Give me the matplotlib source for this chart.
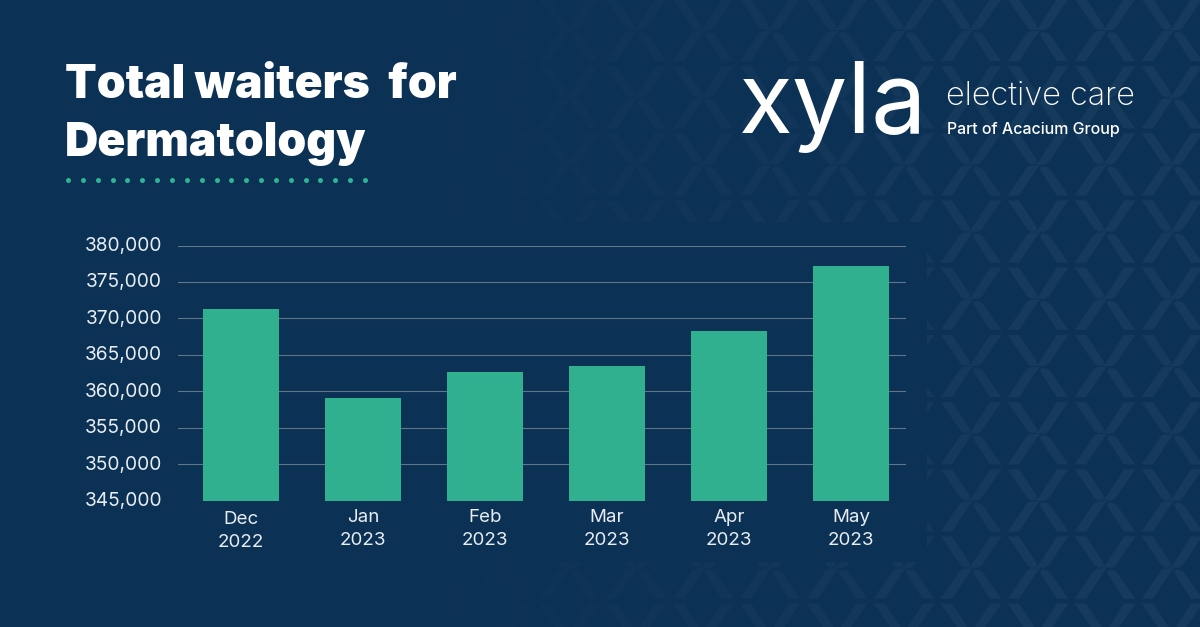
import matplotlib
matplotlib.use('Agg')
import matplotlib.pyplot as plt
import numpy as np
from matplotlib.patches import Polygon, Rectangle
from matplotlib.transforms import ScaledTranslation

# data
months = ['Dec\n2022', 'Jan\n2023', 'Feb\n2023', 'Mar\n2023', 'Apr\n2023', 'May\n2023']
waiters = [371280, 359070, 362640, 363460, 368330, 377250]
y_ticks = [345000, 350000, 355000, 360000, 365000, 370000, 375000, 380000]

BG = '#0b3155'
TILE = '#163a5c'
GREEN = '#30b08f'
GRID = '#607789'
LABEL = '#e8edf1'

plt.rcParams['font.family'] = ['Inter', 'DejaVu Sans']

fig = plt.figure(figsize=(12, 6.27), dpi=100, facecolor=BG)

# full page axes in pixel coords, for the background and the header
page = fig.add_axes([0, 0, 1, 1], zorder=0)
page.set_xlim(0, 1200)
page.set_ylim(627, 0)
page.axis('off')

# the four strokes of one X, relative to its crossing
strokes = [
    [(-29, -31), (-18, -31), (0, -4), (-1, -1), (-5, 0), (-9, -2)],
    [(20, -31), (31, -31), (12, -3), (8, 0), (-2, 0), (2, -3)],
    [(-29, 31), (-18, 31), (0, 4), (3, 1), (-6, 1), (-10, 3)],
    [(20, 31), (31, 31), (13, 5), (10, 3), (5, 2), (3, 5)],
]
for cx in np.arange(970 - 67 * 14, 1240, 67):
    for cy in np.arange(30, 640, 67.2):
        for s in strokes:
            page.add_patch(Polygon(np.array(s) + [cx, cy], closed=True, fc=TILE, ec=TILE,
                                   lw=0.3, joinstyle='round', zorder=1))

# pattern fades out to the left
fade = np.zeros((2, 1200, 4))
fade[..., :3] = matplotlib.colors.to_rgb(BG)
fade[..., 3] = np.clip((1000 - np.arange(1200)) / 600, 0, 1)
page.imshow(fade, extent=(0, 1200, 627, 0), aspect='auto', zorder=2)
page.set_xlim(0, 1200)
page.set_ylim(627, 0)

# plain panel behind the chart
page.add_patch(Rectangle((0, 222), 927, 340, fc=BG, ec='none', zorder=3))

# title
page.text(65, 86, 'Total waiters  for', color='white', fontsize=33.3, fontweight='black',
          va='center', ha='left', zorder=5)
page.text(65, 144, 'Dermatology', color='white', fontsize=33.3, fontweight='black',
          va='center', ha='left', zorder=5)
page.scatter(np.linspace(68, 365, 21), [180] * 21, s=13, color='#2fb596', linewidths=0, zorder=5)

# logo text
page.text(739, 133, 'xyla', color='white', fontsize=71, va='baseline', ha='left', zorder=5)
page.text(946, 105, 'elective care', color='white', fontsize=23.4, fontweight='light',
          va='baseline', ha='left', zorder=5)
page.text(947, 134, 'Part of Acacium Group', color='white', fontsize=11.5, fontweight='medium',
          va='baseline', ha='left', zorder=5)

# chart
ax = fig.add_axes([178 / 1200, 1 - 500.5 / 627, 728 / 1200, 255 / 627], zorder=1)
ax.patch.set_alpha(0)
x = np.arange(len(months))
ax.bar(x, waiters, width=0.623, color=GREEN, zorder=3)
ax.set_xlim(-0.516, 5.451)
ax.set_ylim(345000, 380000)
ax.set_yticks(y_ticks)
ax.set_yticklabels([f'{v:,}' for v in y_ticks])
ax.set_xticks(x)
ax.set_xticklabels(months, linespacing=1.45)
ax.grid(axis='y', color=GRID, lw=0.8, zorder=1)
ax.tick_params(axis='y', length=0, pad=11.5, labelsize=13.8, labelcolor=LABEL)
ax.tick_params(axis='x', length=0, pad=6, labelsize=13.5, labelcolor=LABEL)
for side in ['top', 'right', 'left', 'bottom']:
    ax.spines[side].set_visible(False)
ax.set_axisbelow(True)

# labels sit slightly above their gridlines, Dec slightly lower than the rest
for lab in ax.get_yticklabels():
    lab.set_transform(lab.get_transform() + ScaledTranslation(0, 1.5 / 100, fig.dpi_scale_trans))
dec = ax.get_xticklabels()[0]
dec.set_transform(dec.get_transform() + ScaledTranslation(0, -2 / 100, fig.dpi_scale_trans))

plt.savefig('out.png', dpi=100, facecolor=BG)
